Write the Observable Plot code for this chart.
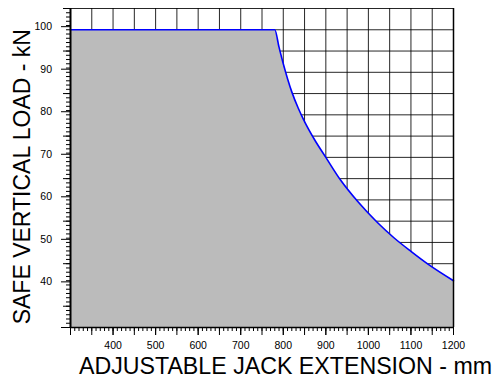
<!DOCTYPE html>
<html>
<head>
<meta charset="utf-8">
<script src="https://cdn.jsdelivr.net/npm/d3@7"></script>
<script src="https://cdn.jsdelivr.net/npm/@observablehq/plot@0.6"></script>
<style>
  html, body { margin: 0; padding: 0; background: #fff; }
  #chart svg { display: block; }
</style>
</head>
<body>
<div id="chart"></div>
<script>
const extension = [300, 780, 790, 800, 810, 820, 835, 850, 875, 900, 935, 975, 1020, 1060, 1100, 1140, 1200];
const load      = [100, 100, 95.9, 92.0, 88.5, 85.4, 81.6, 78.4, 73.9, 70.0, 64.6, 59.6, 54.8, 51.1, 47.9, 44.9, 41.0];
const xLabelTicks = [400, 500, 600, 700, 800, 900, 1000, 1100, 1200];
const yLabelTicks = [40, 50, 60, 70, 80, 90, 100];
const xTitle = "ADJUSTABLE JACK EXTENSION - mm";
const yTitle = "SAFE VERTICAL LOAD - kN";

const data = extension.map((mm, i) => ({mm, kN: load[i]}));

const xGrid = d3.range(300, 1201, 50);
const yGrid = d3.range(30, 106, 5);
const xMinor = d3.range(300, 1201, 10);
const yMinor = d3.range(30, 106, 1);
const yMid = d3.range(35, 106, 10);

const chart = Plot.plot({
  width: 499,
  height: 378,
  marginLeft: 70,
  marginRight: 46,
  marginTop: 8,
  marginBottom: 51,
  x: {domain: [300, 1200]},
  y: {domain: [30, 105]},
  style: {fontFamily: "'Liberation Sans', Arial, sans-serif", background: "#fff", color: "#000"},
  marks: [
    Plot.gridX(xGrid, {stroke: "#000", strokeOpacity: 0.85, strokeWidth: 1}),
    Plot.gridY(yGrid, {stroke: "#000", strokeOpacity: 0.85, strokeWidth: 1}),
    Plot.areaY(data, {x: "mm", y1: 30, y2: "kN", fill: "#bbbbbb", curve: "monotone-x"}),
    Plot.line(data, {x: "mm", y: "kN", stroke: "#0000ff", strokeWidth: 1.6, curve: "monotone-x"}),
    Plot.ruleX([1200], {stroke: "#000", strokeWidth: 1.5}),
    Plot.ruleX([300], {stroke: "#000", strokeWidth: 2}),
    Plot.ruleY([30], {stroke: "#000", strokeWidth: 1.5}),
    // y axis ticks
    Plot.axisY(yMinor, {anchor: "left", tickSize: 4, tickFormat: () => "", label: null}),
    Plot.axisY(yMid, {anchor: "left", tickSize: 7, tickFormat: () => "", label: null}),
    Plot.axisY([30], {anchor: "left", tickSize: 9, tickFormat: () => "", label: null}),
    Plot.axisY(yLabelTicks, {anchor: "left", tickSize: 9, tickPadding: 9.5, fontSize: 10.5, dy: -3.1, tickFormat: d3.format("d"), label: null}),
    // x axis ticks
    Plot.axisX(xMinor, {anchor: "bottom", tickSize: 4, tickFormat: () => "", label: null}),
    Plot.axisX(xGrid, {anchor: "bottom", tickSize: 8, tickFormat: () => "", label: null}),
    Plot.axisX(xLabelTicks, {anchor: "bottom", tickSize: 8, tickPadding: 6, fontSize: 10.5, tickFormat: d3.format("d"), label: null}),
    // titles
    Plot.text([xTitle], {frameAnchor: "bottom", textAnchor: "middle", lineAnchor: "middle", dx: 23.5, dy: 38.8, fontSize: 23.2, fill: "#000"}),
    Plot.text([yTitle], {frameAnchor: "left", textAnchor: "middle", lineAnchor: "middle", rotate: -90, dx: -48.2, dy: 8.7, fontSize: 23, fill: "#000"})
  ]
});
document.getElementById("chart").appendChild(chart);
</script>
</body>
</html>
